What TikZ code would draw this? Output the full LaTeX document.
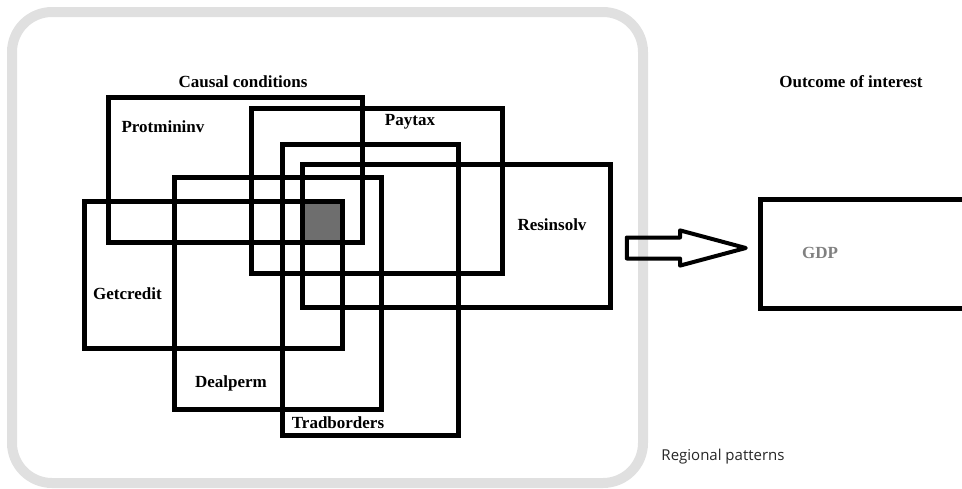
\documentclass[tikz,border=0pt]{standalone}
\usepackage{fontspec}
\setmainfont{Liberation Serif}
\newfontfamily\notefont{Open Sans}
\usepackage{xcolor}
\usetikzlibrary{positioning,shapes.arrows}

\definecolor{framegray}{HTML}{E0E0E0}
\definecolor{coregray}{HTML}{6E6E6E}
\definecolor{gdpgray}{HTML}{808080}

\begin{document}
\begin{tikzpicture}[x=1pt, y=-1pt,
  region/.style={draw=framegray, line width=10pt, rounded corners=40pt,
    minimum width=631pt, minimum height=471pt, inner sep=0pt},
  condbox/.style={draw, line width=5pt, inner sep=0pt},
  core/.style={fill=coregray, inner sep=0pt},
  lbl/.style={font=\fontsize{17}{20}\selectfont\bfseries, inner sep=0pt},
  bigarrow/.style={single arrow, draw, line width=4pt, line join=round,
    minimum height=119pt, minimum width=32pt, inner sep=8.5pt,
    single arrow tip angle=30},
  note/.style={font=\notefont\fontsize{15}{18}\selectfont, text=black!85, inner sep=0pt},
]
\useasboundingbox (0,0) rectangle (962,488);

\node[region] (frame) at (327.5,247.5) {};

% overlap of all conditions
\node[core, minimum width=40pt, minimum height=41pt] (core) at (322,221.5) {};

\node[condbox, minimum width=254pt, minimum height=145pt] (prot) at (235,169.5) {};
\node[condbox, minimum width=251pt, minimum height=165pt] (paytax) at (376.5,190.5) {};
\node[condbox, minimum width=176pt, minimum height=291pt] (trad) at (370,289.5) {};
\node[condbox, minimum width=308pt, minimum height=143.5pt] (resin) at (456,235.75) {};
\node[condbox, minimum width=207pt, minimum height=232pt] (deal) at (277.5,293) {};
\node[condbox, minimum width=258pt, minimum height=147pt] (getc) at (213,274.5) {};

\node[condbox, minimum width=220pt, minimum height=109pt] (gdp) at (870,254) {};

\node[lbl] (causal) at (243,82) {Causal conditions};
\node[lbl] (protlbl) at (163,127) {Protmininv};
\node[lbl] (paytaxlbl) at (410,122) {Paytax};
\node[lbl] (resinlbl) at (552,225) {Resinsolv};
\node[lbl] (getclbl) at (127.5,294) {Getcredit};
\node[lbl] (deallbl) at (231,383) {Dealperm};
\node[lbl] (tradlbl) at (338,423) {Tradborders};
\node[lbl] (outcome) at (851,82) {Outcome of interest};
\node[lbl, text=gdpgray] (gdplbl) at (820,253) {GDP};
\node[note] (regional) at (723,457) {Regional patterns};

\node[bigarrow, anchor=tip] (flow) at ([xshift=-4pt,yshift=6pt]gdp.west) {};

\end{tikzpicture}
\end{document}
